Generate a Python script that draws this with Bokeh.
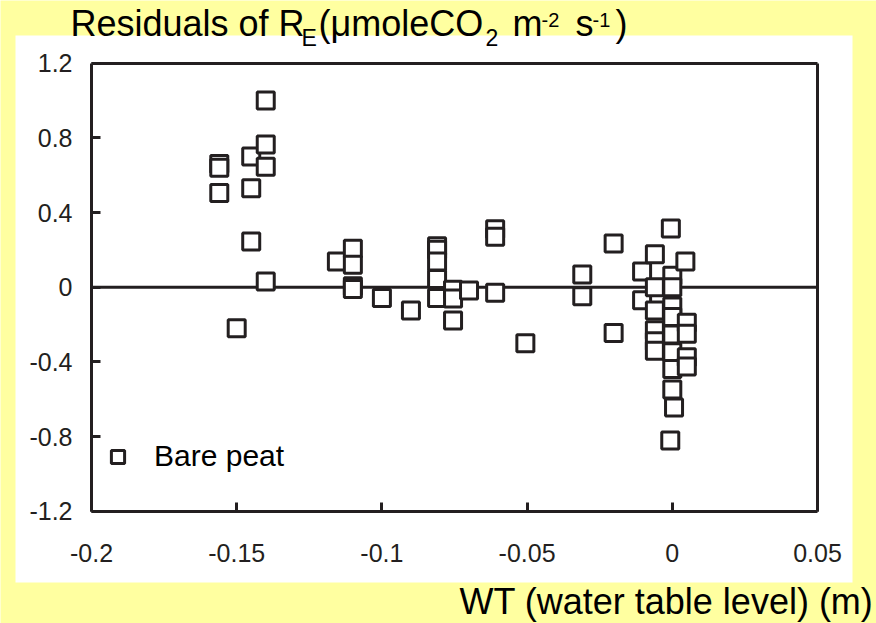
from bokeh.plotting import figure
from bokeh.models import (FixedTicker, Label, BoxAnnotation, Legend, LegendItem,
                          LinearAxis, Range1d)
from bokeh.embed import file_html
from bokeh.resources import INLINE

# ---------------- data ----------------
wt = [-0.156, -0.156, -0.156, -0.145, -0.145, -0.145, -0.14, -0.14, -0.14, -0.14,
      -0.15, -0.1155, -0.11, -0.11, -0.11, -0.11, -0.1, -0.09,
      -0.081, -0.081, -0.081, -0.081, -0.081, -0.0755, -0.0755, -0.0755, -0.07,
      -0.061, -0.061, -0.061, -0.0506, -0.031, -0.031, -0.0202, -0.0202,
      -0.0104, -0.0104, -0.006, -0.006, -0.006, -0.006, -0.006, -0.006,
      -0.0005, 0.0, 0.0, 0.0, 0.0, 0.0, 0.0, 0.0, 0.0, 0.0006, -0.0007,
      0.0045, 0.005, 0.005, 0.005, 0.005]
resid = [0.66, 0.64, 0.505, 0.70, 0.53, 0.245, 1.0, 0.765, 0.645, 0.03,
         -0.22, 0.138, 0.206, 0.12, 0.005, -0.01, -0.058, -0.125,
         0.22, 0.20, 0.138, 0.044, -0.058, -0.014, -0.06, -0.178, -0.018,
         0.31, 0.27, -0.03, -0.30, 0.068, -0.049, 0.234, -0.246,
         0.084, -0.07, 0.177, 0.0, -0.125, -0.23, -0.29, -0.34,
         0.314, 0.061, 0.0, -0.103, -0.16, -0.253, -0.348, -0.438, -0.548, -0.644, -0.821,
         0.138, -0.19, -0.25, -0.375, -0.425]

x_ticks = [-0.2, -0.15, -0.1, -0.05, 0.0, 0.05]
x_tick_labels = ["-0.2", "-0.15", "-0.1", "-0.05", "0", "0.05"]
y_ticks = [-1.2, -0.8, -0.4, 0.0, 0.4, 0.8, 1.2]
y_tick_labels = ["-1.2", "-0.8", "-0.4", "0", "0.4", "0.8", "1.2"]
series_name = "Bare peat"
x_title = "WT (water table level) (m)"

# ---------------- layout / styling ----------------
INK = "#231f20"
YELLOW = "#FFFFA0"
FONT = "Liberation Sans"
W, H = 876, 623
# pixel position of the data box on the canvas
BOX_L, BOX_R, BOX_T, BOX_B = 91.0, 817.0, 62.7, 510.7

x_lo, x_hi = x_ticks[0], x_ticks[-1]
y_lo, y_hi = y_ticks[0], y_ticks[-1]
kx = (x_hi - x_lo) / (BOX_R - BOX_L)
ky = (y_hi - y_lo) / (BOX_B - BOX_T)
x_range = Range1d(x_lo - BOX_L * kx, x_hi + (W - BOX_R) * kx)
y_range = Range1d(y_lo - (H - BOX_B) * ky, y_hi + BOX_T * ky)

p = figure(width=W, height=H, x_range=x_range, y_range=y_range,
           output_backend="svg", toolbar_location=None, title=None,
           x_axis_location=None, y_axis_location=None, min_border=0,
           border_fill_color=YELLOW, background_fill_color=YELLOW)
p.xgrid.visible = False
p.ygrid.visible = False
p.outline_line_color = None

# white panel behind the chart
p.add_layout(BoxAnnotation(left=15, right=852, top=35, bottom=582,
                           left_units="canvas", right_units="canvas",
                           top_units="canvas", bottom_units="canvas",
                           fill_color="white", fill_alpha=1.0, line_color=None,
                           level="underlay"))

def style_axis(ax):
    ax.axis_line_color = INK
    ax.axis_line_width = 3
    ax.major_tick_line_color = INK
    ax.major_tick_line_width = 3
    ax.major_tick_in = 9
    ax.major_tick_out = 0
    ax.minor_tick_line_color = None
    ax.major_label_text_font = FONT
    ax.major_label_text_font_size = "25px"
    ax.major_label_text_color = INK

xax = LinearAxis(fixed_location=y_lo, bounds=(x_lo, x_hi),
                 ticker=FixedTicker(ticks=x_ticks),
                 major_label_overrides={t: l for t, l in zip(x_ticks, x_tick_labels)})
style_axis(xax)
xax.major_label_standoff = 33
p.add_layout(xax, "below")

yax = LinearAxis(fixed_location=x_lo, bounds=(y_lo, y_hi),
                 ticker=FixedTicker(ticks=y_ticks),
                 major_label_overrides={t: l for t, l in zip(y_ticks, y_tick_labels)})
style_axis(yax)
yax.major_label_standoff = 19
p.add_layout(yax, "left")

# top and right frame lines (no ticks)
tax = LinearAxis(fixed_location=y_hi, bounds=(x_lo, x_hi), ticker=FixedTicker(ticks=[]))
style_axis(tax)
p.add_layout(tax, "above")
rax = LinearAxis(fixed_location=x_hi, bounds=(y_lo, y_hi), ticker=FixedTicker(ticks=[]))
style_axis(rax)
p.add_layout(rax, "right")

# zero reference line
p.segment(x0=x_lo, y0=0, x1=x_hi, y1=0, line_color=INK, line_width=3)

r = p.scatter(wt, resid, marker="square", size=17, line_width=3,
              line_color=INK, fill_color="white")

legend = Legend(items=[LegendItem(label=series_name, renderers=[r], index=0)],
                location=(101, 144), padding=0, margin=0, spacing=0,
                glyph_width=33, glyph_height=33, label_height=46, label_standoff=20,
                label_text_font=FONT, label_text_font_size="30px", label_text_color="black",
                border_line_color=None, background_fill_alpha=0)
p.add_layout(legend)

def lab(text, px, base_py, size, align="left"):
    # px: canvas x; base_py: wanted baseline (canvas y from top).
    # Labels are anchored on the middle of the text box -> convert.
    mid_py = base_py - 0.3465 * size
    p.add_layout(Label(x=px, y=H - mid_py, x_units="screen", y_units="screen",
                       text=text, text_font=FONT, text_font_size="%dpx" % size,
                       text_color="black", text_align=align, text_baseline="alphabetic"))

lab("Residuals of R", 70, 35, 36)
lab("E", 301, 45, 23)
lab("(\u03bcmoleCO", 318, 35, 36)
lab("2", 485, 45, 23)
lab("m", 512, 35, 36)
lab("-2", 541, 26, 20)
lab("s", 575, 35, 36)
lab("-1", 592, 26, 20)
lab(")", 615, 35, 36)

lab(x_title, 873, 613, 36, align="right")

html = file_html(p, INLINE)
html = html.replace("<body>", '<body style="background-color: %s;">' % YELLOW, 1)
open("out.html", "w").write(html)
